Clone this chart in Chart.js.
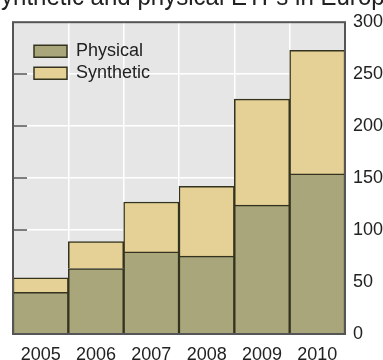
<!DOCTYPE html>
<html>
<head>
<meta charset="utf-8">
<script src="https://cdn.jsdelivr.net/npm/chart.js@4.4.1/dist/chart.umd.min.js"></script>
<style>
  html, body { margin: 0; padding: 0; overflow: hidden; background: #fff; }
  /* the title runs past the edges in the original, so the canvas is a bit bigger than the window */
  #wrap { position: absolute; left: -15px; top: -18px; width: 413px; height: 378px; }
</style>
</head>
<body>
<div id="wrap"><canvas id="myChart" width="413" height="378"></canvas></div>
<script>
// data (EUR bn)
const years = ['2005', '2006', '2007', '2008', '2009', '2010'];
const physical = [40, 63, 79, 75, 124, 154];
const synthetic = [14, 26, 48, 67, 102, 119];
const yTicks = [0, 50, 100, 150, 200, 250, 300];

const FONT = '"Liberation Sans", Arial, sans-serif';
const TEXT = '#222';

// grey plot background, frame, short inner ticks on the left edge
const plotFrame = {
  id: 'plotFrame',
  afterLayout(chart) {
    // legend sits inside the plot, top left
    const a = chart.chartArea;
    chart.legend.left = a.left + 17;
    chart.legend.top = a.top + 16;
  },
  beforeDraw(chart) {
    const {ctx, chartArea: a} = chart;
    ctx.save();
    ctx.fillStyle = '#e6e6e6';
    ctx.fillRect(a.left, a.top, a.width, a.height);
    ctx.restore();
  },
  beforeDatasetsDraw(chart) {
    const {ctx, chartArea: a} = chart;
    const y = chart.scales.y;
    ctx.save();
    ctx.strokeStyle = '#555';
    ctx.lineWidth = 1.5;
    yTicks.forEach(v => {
      if (v === yTicks[0] || v === yTicks[yTicks.length - 1]) return;
      const py = Math.round(y.getPixelForValue(v));
      ctx.beginPath();
      ctx.moveTo(a.left, py);
      ctx.lineTo(a.left + 14, py);
      ctx.stroke();
    });
    ctx.restore();
  },
  afterDatasetsDraw(chart) {
    const {ctx, chartArea: a} = chart;
    ctx.save();
    ctx.strokeStyle = '#555';
    ctx.lineWidth = 2;
    ctx.strokeRect(a.left, a.top, a.width, a.height);
    ctx.restore();
  }
};

const data = {
  labels: years,
  datasets: [
    {
      label: 'Physical',
      data: physical,
      yAxisID: 'y',
      backgroundColor: '#a8a67a',
      borderColor: '#33331f',
      borderWidth: 1.5,
      categoryPercentage: 1,
      barPercentage: 1
    },
    {
      label: 'Synthetic',
      data: synthetic,
      yAxisID: 'y',
      backgroundColor: '#e5d195',
      borderColor: '#33331f',
      borderWidth: 1.5,
      categoryPercentage: 1,
      barPercentage: 1
    }
  ]
};

const config = {
  type: 'bar',
  data,
  options: {
    responsive: false,
    animation: false,
    layout: { padding: 0 },
    plugins: {
      title: {
        display: true,
        text: 'Synthetic and physical ETFs in Europe',
        color: TEXT,
        font: { family: FONT, size: 26, weight: 'normal' },
        padding: { top: 0, bottom: 9 }
      },
      legend: {
        position: 'chartArea',
        align: 'start',
        labels: {
          boxWidth: 33,
          boxHeight: 12,
          padding: 4,
          color: TEXT,
          font: { family: FONT, size: 18 }
        }
      },
      tooltip: { enabled: false }
    },
    scales: {
      x: {
        stacked: true,
        offset: true,
        border: { display: false },
        grid: { color: '#ffffff', lineWidth: 1.5, drawTicks: false, offset: true },
        ticks: { color: TEXT, padding: 12, font: { family: FONT, size: 18, lineHeight: 1 } },
        afterFit(scale) { scale.height = 26; }
      },
      // empty left axis, only keeps the left margin
      yLeft: {
        position: 'left',
        min: 0,
        max: 300,
        border: { display: false },
        grid: { drawOnChartArea: false, drawTicks: false },
        ticks: { display: false },
        afterFit(scale) { scale.width = 28; }
      },
      y: {
        stacked: true,
        position: 'right',
        min: 0,
        max: 300,
        border: { display: false },
        grid: { color: '#ffffff', lineWidth: 1.5, drawTicks: false },
        ticks: { stepSize: 50, color: TEXT, padding: 8, font: { family: FONT, size: 18 } },
        afterFit(scale) { scale.width = 53; }
      }
    }
  },
  plugins: [plotFrame]
};

const myChart = new Chart(document.getElementById('myChart'), config);
</script>
</body>
</html>
